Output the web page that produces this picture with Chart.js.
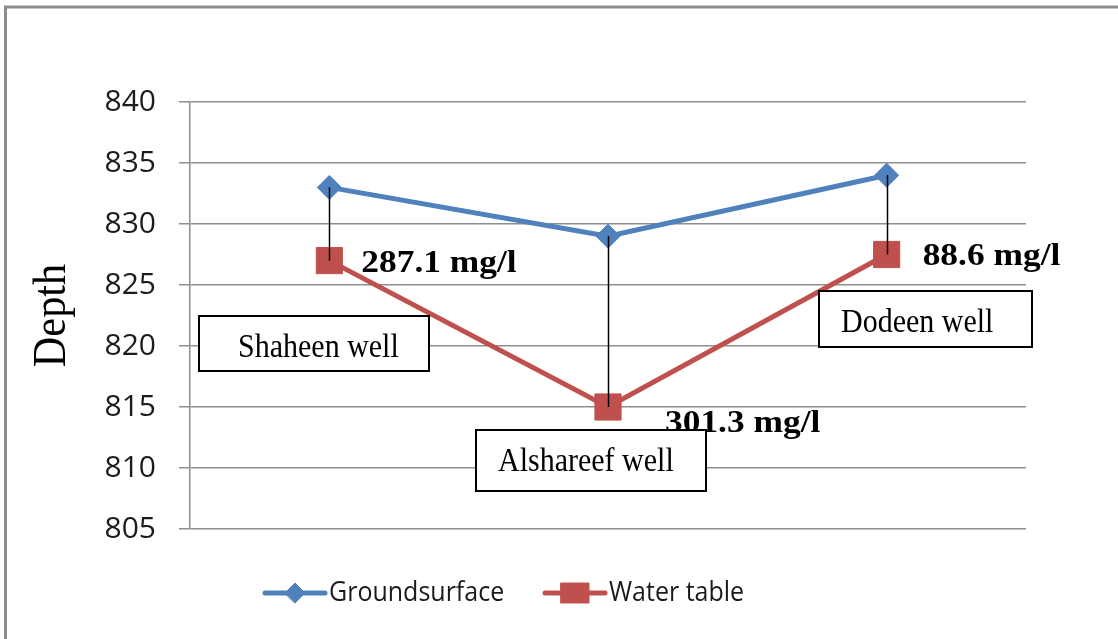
<!DOCTYPE html>
<html>
<head>
<meta charset="utf-8">
<title>Depth of ground surface and water table</title>
<script src="https://cdn.jsdelivr.net/npm/chart.js@4.4.1/dist/chart.umd.min.js"></script>
<style>
  html, body { margin: 0; padding: 0; background: #ffffff; }
  #wrap { width: 1118px; height: 639px; position: relative; }
</style>
</head>
<body>
<div id="wrap"><canvas id="c" width="1118" height="639"></canvas></div>
<script>
// ---- data ----
const wells = ['Shaheen well', 'Alshareef well', 'Dodeen well'];
const groundSurface = [833, 829, 834];
const waterTable = [827, 815, 827.5];
const concentration = [287.1, 301.3, 88.6];   // mg/l
const concUnit = 'mg/l';
const yMin = 805, yMax = 840, yStep = 5;
const yTitle = 'Depth';
const seriesNames = ['Groundsurface', 'Water table'];

// ---- styling ----
const BLUE = '#4f81bd';
const RED = '#c0504d';
const GRID = '#8e8e8e';

// label boxes placed relative to each water-table point: [dx, dy, w, h, textDx]
const boxPlacement = [
  [-130, 55, 230, 55, 39],
  [-132, 23, 230, 61, 22],
  [-68, 36, 213, 56, 22]
];
// concentration text offsets from each water-table point: [dx, baselineDy]
const concPlacement = [
  [32, 11],
  [57, 25],
  [36, 10]
];

const framePlugin = {
  id: 'frame',
  beforeDraw(chart) {
    const c = chart.ctx;
    c.save();
    c.fillStyle = '#ffffff';
    c.fillRect(0, 0, chart.width, chart.height);
    c.strokeStyle = '#8c8c8c';
    c.lineWidth = 3;
    c.beginPath();
    c.moveTo(5.5, chart.height);
    c.lineTo(5.5, 7);
    c.lineTo(chart.width, 7);
    c.stroke();
    c.restore();
  }
};

const wellNotesPlugin = {
  id: 'wellNotes',
  afterDatasetsDraw(chart) {
    const c = chart.ctx;
    const xs = chart.scales.x, ys = chart.scales.y;
    c.save();

    // vertical connectors between ground surface and water table
    c.strokeStyle = '#000000';
    c.lineWidth = 1.5;
    wells.forEach((w, i) => {
      const x = Math.round(xs.getPixelForValue(i)) + 0.5;
      c.beginPath();
      c.moveTo(x, ys.getPixelForValue(groundSurface[i]));
      c.lineTo(x, ys.getPixelForValue(waterTable[i]));
      c.stroke();
    });

    // concentration labels
    c.fillStyle = '#000000';
    c.font = 'bold 30px "Liberation Serif", "Times New Roman", serif';
    c.textAlign = 'left';
    c.textBaseline = 'alphabetic';
    wells.forEach((w, i) => {
      const x = xs.getPixelForValue(i), y = ys.getPixelForValue(waterTable[i]);
      const p = concPlacement[i];
      c.save();
      c.translate(x + p[0], y + p[1]);
      c.scale(1.18, 1.04);
      c.fillText(concentration[i].toFixed(1) + ' ' + concUnit, 0, 0);
      c.restore();
    });

    // well name boxes
    wells.forEach((w, i) => {
      const x = xs.getPixelForValue(i), y = ys.getPixelForValue(waterTable[i]);
      const b = boxPlacement[i];
      const bx = Math.round(x + b[0]), by = Math.round(y + b[1]);
      c.fillStyle = '#ffffff';
      c.fillRect(bx, by, b[2], b[3]);
      c.strokeStyle = '#000000';
      c.lineWidth = 2;
      c.strokeRect(bx, by, b[2], b[3]);
      c.fillStyle = '#000000';
      c.save();
      c.translate(bx + b[4], by + 41);
      c.scale(1, 1.1);
      c.font = '30px "Liberation Serif", "Times New Roman", serif';
      c.fillText(w, 0, 0);
      c.restore();
    });

    // rotated axis title
    c.save();
    c.translate(65, ys.getPixelForValue((yMin + yMax) / 2));
    c.rotate(-Math.PI / 2);
    c.scale(0.92, 1);
    c.font = '46px "Liberation Serif", "Times New Roman", serif';
    c.textAlign = 'center';
    c.fillText(yTitle, 0, 0);
    c.restore();

    c.restore();
  },
  afterDraw(chart) {
    // legend: line with marker in the middle, then the series name
    const c = chart.ctx;
    const startX = [265, 545];
    const y = 593;
    c.save();
    chart.data.datasets.forEach((ds, i) => {
      const x0 = startX[i];
      c.strokeStyle = ds.borderColor;
      c.lineWidth = 5;
      c.lineCap = 'round';
      c.beginPath();
      c.moveTo(x0, y);
      c.lineTo(x0 + 60, y);
      c.stroke();
      c.fillStyle = ds.borderColor;
      c.strokeStyle = ds.borderColor;
      c.lineWidth = 1;
      if (i === 0) {
        Chart.helpers.drawPointLegend(c, { pointStyle: 'rectRot', radius: 10, rotation: 0, borderWidth: 1 }, x0 + 30, y, 20);
      } else {
        Chart.helpers.drawPointLegend(c, { pointStyle: 'rect', radius: 14.1, rotation: 0, borderWidth: 1 }, x0 + 30, y, 28);
      }
      c.fillStyle = '#1a1a1a';
      c.font = '25px "Open Sans", sans-serif';
      c.textAlign = 'left';
      c.textBaseline = 'middle';
      c.save();
      c.translate(x0 + 64, y);
      c.scale(1, 1.06);
      c.fillText(ds.label, 0, 0);
      c.restore();
    });
    c.restore();
  }
};

new Chart(document.getElementById('c'), {
  type: 'line',
  data: {
    labels: wells,
    datasets: [
      {
        label: seriesNames[0],
        data: groundSurface,
        borderColor: BLUE,
        backgroundColor: BLUE,
        borderWidth: 5,
        pointStyle: 'rectRot',
        pointRadius: 12,
        pointBorderWidth: 1,
        pointBackgroundColor: BLUE,
        pointBorderColor: BLUE,
        tension: 0
      },
      {
        label: seriesNames[1],
        data: waterTable,
        borderColor: RED,
        backgroundColor: RED,
        borderWidth: 5,
        pointStyle: 'rect',
        pointRadius: 18.5,
        pointBorderWidth: 1,
        pointBackgroundColor: RED,
        pointBorderColor: RED,
        tension: 0
      }
    ]
  },
  options: {
    responsive: false,
    animation: false,
    devicePixelRatio: 1,
    layout: { padding: { top: 102, right: 92, bottom: 110, left: 0 } },
    plugins: {
      legend: { display: false },
      tooltip: { enabled: false },
      title: { display: false }
    },
    scales: {
      x: {
        type: 'category',
        display: false,
        offset: true
      },
      y: {
        min: yMin,
        max: yMax,
        afterFit(scale) { scale.width = 190; },
        ticks: {
          stepSize: yStep,
          padding: 23,
          color: '#1c1c1c',
          font: { family: '"Open Sans", sans-serif', size: 30 }
        },
        grid: {
          color: GRID,
          lineWidth: 1.5,
          tickLength: 11,
          drawTicks: true
        },
        border: { display: true, color: GRID, width: 1.5 }
      }
    }
  },
  plugins: [framePlugin, wellNotesPlugin]
});
</script>
</body>
</html>
